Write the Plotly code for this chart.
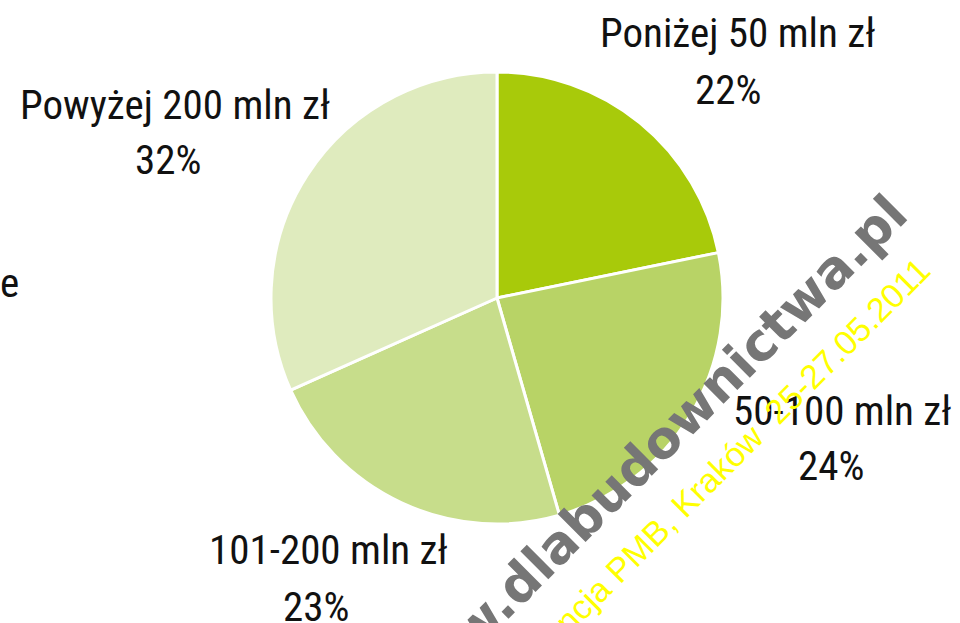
import plotly.graph_objects as go

W, H = 960, 623

categories = ["Poniżej 50 mln zł", "50-100 mln zł", "101-200 mln zł", "Powyżej 200 mln zł"]
shares = [22, 24, 23, 32]
colors = ["#A8CA0A", "#B8D366", "#C7DD8B", "#DFEBBE"]

# label placement (pixel centres of name line and percent line)
label_pos = {
    "Poniżej 50 mln zł": ((738, 33), (728, 90)),
    "50-100 mln zł": ((842, 411), (831, 466)),
    "101-200 mln zł": ((328, 550), (316, 607)),
    "Powyżej 200 mln zł": ((175, 105), (168, 160)),
}

cx, cy, r = 497, 298, 226

LABEL_FONT = "Liberation Sans Narrow, Roboto Condensed, DejaVu Sans Condensed, Arial Narrow, sans-serif"


def px(x):
    return x / W


def py(y):
    return 1 - y / H


fig = go.Figure()
fig.add_trace(go.Pie(
    labels=categories,
    values=shares,
    sort=False,
    direction="clockwise",
    rotation=0,
    marker=dict(colors=colors, line=dict(color="white", width=3)),
    textinfo="none",
    hoverinfo="label+percent",
    domain=dict(x=[px(cx - r), px(cx + r)], y=[py(cy + r), py(cy - r)]),
))

annotations = []
for cat, val in zip(categories, shares):
    (nx, ny), (vx, vy) = label_pos[cat]
    annotations.append(dict(x=px(nx), y=py(ny), text=cat, showarrow=False,
                            xref="paper", yref="paper", xanchor="center", yanchor="middle",
                            font=dict(family=LABEL_FONT, size=41, color="#111111")))
    annotations.append(dict(x=px(vx), y=py(vy), text=f"{val}%", showarrow=False,
                            xref="paper", yref="paper", xanchor="center", yanchor="middle",
                            font=dict(family=LABEL_FONT, size=41, color="#111111")))

# cropped text at left edge
annotations.append(dict(x=px(21), y=py(283), text="e", showarrow=False,
                        xref="paper", yref="paper", xanchor="right", yanchor="middle",
                        font=dict(family=LABEL_FONT, size=41, color="#111111")))

# watermarks
annotations.append(dict(x=px(645), y=py(457), text="www.dlabudownictwa.pl", showarrow=False,
                        xref="paper", yref="paper", xanchor="center", yanchor="middle",
                        textangle=-45,
                        font=dict(family="DejaVu Sans", size=52, color="#767676", weight="bold")))
annotations.append(dict(x=px(700), y=py(488), text="Konferencja PMB, Kraków  25-27.05.2011", showarrow=False,
                        xref="paper", yref="paper", xanchor="center", yanchor="middle",
                        textangle=-45,
                        font=dict(family="Liberation Sans, Arial, sans-serif", size=34, color="#FFFF00")))

fig.update_layout(
    width=W, height=H,
    margin=dict(l=0, r=0, t=0, b=0),
    paper_bgcolor="white",
    plot_bgcolor="white",
    showlegend=False,
    annotations=annotations,
)

fig.write_html("out.html", config={"displayModeBar": False},
               post_script="document.body.style.margin='0';document.body.style.overflow='hidden';")
